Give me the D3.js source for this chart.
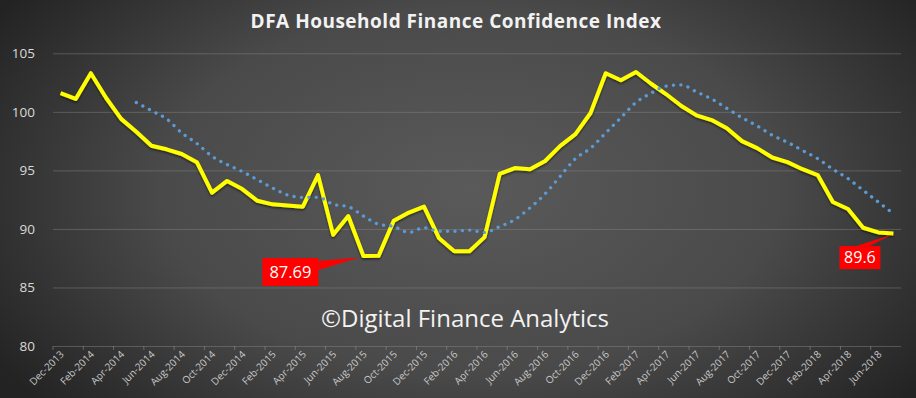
<!DOCTYPE html>
<html lang="en">
<head>
<meta charset="UTF-8">
<script src="https://d3js.org/d3.v7.min.js"></script>
<title>DFA Household Finance Confidence Index</title>
<style>
  body { margin: 0; background: #262626; }
  svg { display: block; font-family: "Open Sans", "DejaVu Sans", sans-serif; }
</style>
</head>
<body>
<svg id="chart" width="916" height="398"></svg>
<script>

// monthly categories, Dec 2013 .. Jul 2018
var months = [
  "Dec-2013",
  "Jan-2014","Feb-2014","Mar-2014","Apr-2014","May-2014","Jun-2014","Jul-2014","Aug-2014","Sep-2014","Oct-2014","Nov-2014","Dec-2014",
  "Jan-2015","Feb-2015","Mar-2015","Apr-2015","May-2015","Jun-2015","Jul-2015","Aug-2015","Sep-2015","Oct-2015","Nov-2015","Dec-2015",
  "Jan-2016","Feb-2016","Mar-2016","Apr-2016","May-2016","Jun-2016","Jul-2016","Aug-2016","Sep-2016","Oct-2016","Nov-2016","Dec-2016",
  "Jan-2017","Feb-2017","Mar-2017","Apr-2017","May-2017","Jun-2017","Jul-2017","Aug-2017","Sep-2017","Oct-2017","Nov-2017","Dec-2017",
  "Jan-2018","Feb-2018","Mar-2018","Apr-2018","May-2018","Jun-2018","Jul-2018"
];

// the index (yellow line)
var confidence = [
  101.6, 101.1, 103.3, 101.2, 99.4, 98.3, 97.1, 96.8, 96.4, 95.7, 93.1, 94.1, 93.4,
  92.4, 92.1, 92.0, 91.9, 94.6, 89.5, 91.1, 87.69, 87.7, 90.7, 91.4, 91.9,
  89.2, 88.1, 88.1, 89.3, 94.7, 95.2, 95.1, 95.8, 97.1, 98.1, 99.9, 103.3,
  102.7, 103.4, 102.4, 101.5, 100.5, 99.7, 99.3, 98.6, 97.5, 96.9, 96.1, 95.7,
  95.1, 94.6, 92.3, 91.7, 90.1, 89.7, 89.6
];

// 6 month trend (blue dotted)
var trend = [
  null, null, null, null, null, 100.8, 100.1, 99.4, 98.2, 97.3, 96.2, 95.5, 94.9,
  94.2, 93.5, 92.9, 92.7, 92.7, 92.1, 91.9, 91.1, 90.4, 90.2, 89.7, 90.1,
  89.8, 89.8, 89.9, 89.7, 90.2, 90.8, 91.8, 93.0, 94.5, 96.0, 96.9, 98.2,
  99.5, 100.8, 101.6, 102.2, 102.3, 101.7, 101.1, 100.3, 99.5, 98.8, 98.0, 97.4,
  96.7, 96.0, 95.1, 94.3, 93.3, 92.3, 91.3
];

// neutral level (orange dashed)
var neutral = months.map(() => 100);

var yTicks = [80, 85, 90, 95, 100, 105];

// callouts: which point, and the text shown
var callouts = [
  { month: "Aug-2015", label: "87.69", box: { dx: -101, dy: 2, w: 56, h: 28 }, wedge: "side" },
  { month: "Jul-2018", label: "89.6",  box: { dx: -54, dy: 12.5, w: 41, h: 23 }, wedge: "top" }
];

var svg = d3.select("#chart");
var W = 916, H = 398;
var plot = { left: 53, right: 901, top: 53.3, bottom: 346 };

// background
var defs = svg.append("defs");
var grad = defs.append("radialGradient")
  .attr("id", "bg")
  .attr("gradientUnits", "userSpaceOnUse")
  .attr("cx", 0).attr("cy", 0).attr("r", 1)
  .attr("gradientTransform", "translate(470,190) scale(560,330)");
grad.append("stop").attr("offset", 0).attr("stop-color", "#5a5a5a");
grad.append("stop").attr("offset", 0.55).attr("stop-color", "#4a4a4a");
grad.append("stop").attr("offset", 1).attr("stop-color", "#232323");

var shadow = defs.append("filter").attr("id", "shadow")
  .attr("x", "-5%").attr("y", "-50%").attr("width", "110%").attr("height", "200%");
shadow.append("feDropShadow").attr("dx", 0).attr("dy", 1.5)
  .attr("stdDeviation", 1).attr("flood-color", "#000").attr("flood-opacity", 0.55);

svg.append("rect").attr("width", W).attr("height", H).attr("fill", "url(#bg)");

var x = d3.scaleBand().domain(months).range([plot.left, plot.right]).padding(0);
var y = d3.scaleLinear().domain([80, 105]).range([plot.bottom, plot.top]);
var cx = d => x(d) + x.bandwidth() / 2;

// gridlines
svg.append("g")
  .attr("transform", `translate(${plot.left},0)`)
  .call(d3.axisLeft(y).tickValues(yTicks).tickSize(-(plot.right - plot.left)).tickFormat(""))
  .call(g => g.select(".domain").remove())
  .call(g => g.selectAll(".tick line").attr("stroke", "#8a8a8a").attr("stroke-opacity", 0.45).attr("stroke-width", 1));

// y labels
svg.append("g")
  .attr("transform", `translate(${plot.left},0)`)
  .call(d3.axisLeft(y).tickValues(yTicks).tickSize(0).tickPadding(18))
  .call(g => g.select(".domain").remove())
  .call(g => g.selectAll(".tick text")
    .attr("fill", "#d9d9d9")
    .attr("font-size", "13.5px")
    .attr("font-family", "'Open Sans', sans-serif"));

// x axis, label every second month
var xAxis = svg.append("g")
  .attr("transform", `translate(0,${plot.bottom})`)
  .call(d3.axisBottom(x).tickValues(months.filter((d, i) => i % 2 === 0)).tickSize(0))
  .call(g => g.select(".domain").remove());

xAxis.selectAll(".tick text")
  .attr("fill", "#c8c8c8")
  .attr("font-size", "10px")
  .attr("font-family", "'Open Sans', sans-serif")
  .attr("text-anchor", "end")
  .attr("y", 0).attr("dy", 0)
  .attr("transform", "translate(4,9) rotate(-45)");

// small tick marks between pairs of months
svg.append("g").selectAll("line")
  .data(months.filter((d, i) => i % 2 === 0))
  .enter().append("line")
  .attr("x1", d => x(d)).attr("x2", d => x(d))
  .attr("y1", plot.bottom).attr("y2", plot.bottom + 4)
  .attr("stroke", "#8a8a8a").attr("stroke-opacity", 0.6);

// neutral line at 100
svg.append("path")
  .datum(neutral)
  .attr("fill", "none")
  .attr("stroke", "#ED7D31")
  .attr("stroke-width", 4)
  .attr("stroke-dasharray", "4.5 10.5")
  .attr("stroke-linecap", "round")
  .attr("filter", "url(#shadow)")
  .attr("d", d3.line().x((d, i) => cx(months[i])).y(d => y(d)));

// index line
svg.append("path")
  .datum(confidence)
  .attr("fill", "none")
  .attr("stroke", "#FFFF00")
  .attr("stroke-width", 4)
  .attr("stroke-linejoin", "round")
  .attr("filter", "url(#shadow)")
  .attr("d", d3.line().x((d, i) => cx(months[i])).y(d => y(d)));

// trend (dotted)
svg.append("path")
  .datum(trend)
  .attr("fill", "none")
  .attr("stroke", "#5B9BD5")
  .attr("stroke-width", 3.3)
  .attr("stroke-linecap", "round")
  .attr("stroke-dasharray", "0.1 7.3")
  .attr("d", d3.line()
    .defined(d => d != null)
    .curve(d3.curveMonotoneX)
    .x((d, i) => cx(months[i])).y(d => y(d)));

// callouts
callouts.forEach(c => {
  var i = months.indexOf(c.month);
  var px = cx(c.month), py = y(confidence[i]);
  var bx = px + c.box.dx, by = py + c.box.dy;
  var pts;
  if (c.wedge === "side") {
    pts = [[bx + c.box.w, by + 3], [bx + c.box.w, by + 12], [px - 4, py + 1.5]];
  } else {
    pts = [[bx + 17, by], [bx + 30, by], [px - 1, py + 1]];
  }
  svg.append("polygon").attr("points", pts.map(p => p.join(",")).join(" ")).attr("fill", "#FF0000");
  svg.append("rect")
    .attr("x", bx).attr("y", by).attr("width", c.box.w).attr("height", c.box.h)
    .attr("fill", "#FF0000");
  svg.append("text")
    .attr("x", bx + c.box.w / 2).attr("y", by + c.box.h / 2)
    .attr("dy", "0.35em")
    .attr("text-anchor", "middle")
    .attr("fill", "#ffffff")
    .attr("font-size", c.label.length > 4 ? "16.5px" : "16px")
    .text(c.label);
});

// title
svg.append("text")
  .attr("x", 456).attr("y", 28)
  .attr("text-anchor", "middle")
  .attr("fill", "#f2f2f2")
  .attr("font-size", "19px")
  .attr("letter-spacing", "0.5px")
  .attr("font-weight", "bold")
  .text("DFA Household Finance Confidence Index");

// watermark
svg.append("text")
  .attr("x", 465).attr("y", 327)
  .attr("text-anchor", "middle")
  .attr("fill", "#f2f2f2")
  .attr("font-size", "24px")
  .text("©Digital Finance Analytics");

</script>
</body>
</html>
